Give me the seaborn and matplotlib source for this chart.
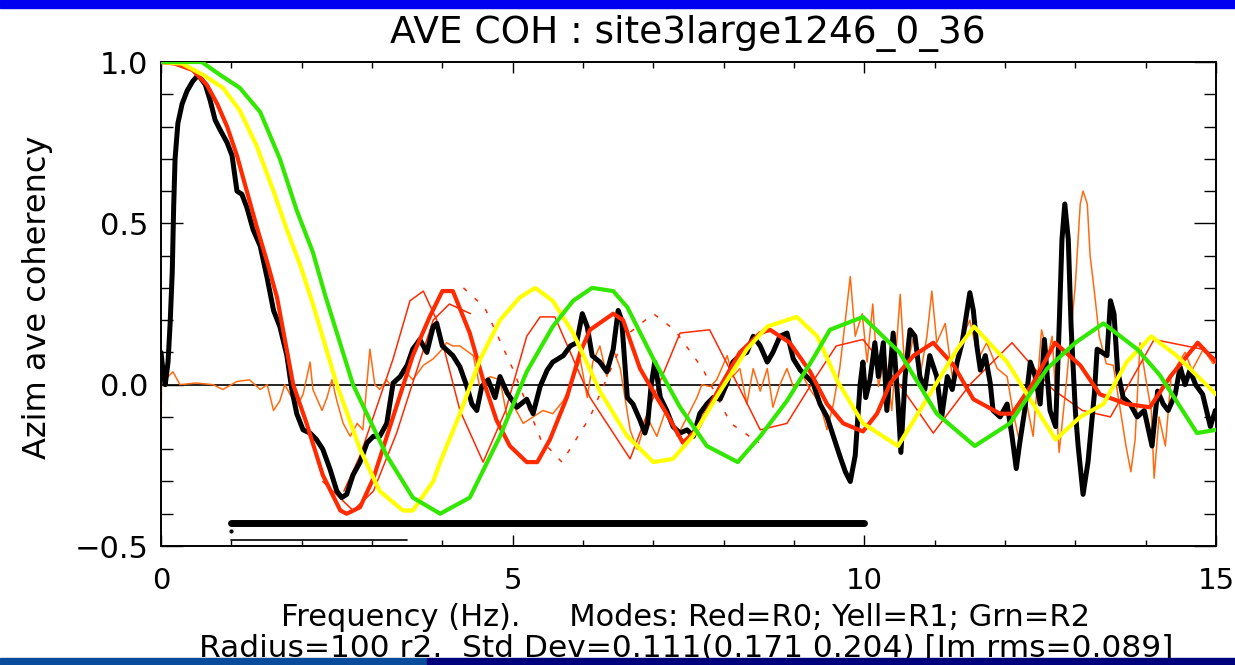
import numpy as np
import pandas as pd
import matplotlib
matplotlib.use("Agg")
import matplotlib.pyplot as plt
import seaborn as sns
from matplotlib.ticker import MultipleLocator
from matplotlib.patches import Rectangle

# --- data ---
# model R2 (green)
green_x = [0, 0.58, 0.84, 1.12, 1.41, 1.69, 1.93, 2.16, 2.33, 2.73, 3.21, 3.58, 3.97, 4.39, 4.82,
           5.2, 5.57, 5.86, 6.13, 6.43, 6.63, 7.0, 7.38, 7.76, 8.2, 8.52, 8.9, 9.27, 9.51, 9.98,
           10.5, 11.03, 11.57, 12.07, 12.6, 13.0, 13.4, 13.88, 14.2, 14.73, 15.0]
green_y = [1.0, 1.0, 0.96, 0.92, 0.845, 0.70, 0.54, 0.41, 0.28, 0.0, -0.22, -0.35, -0.40, -0.35, -0.16,
           0.04, 0.18, 0.26, 0.30, 0.29, 0.24, 0.08, -0.07, -0.19, -0.24, -0.16, -0.05, 0.08, 0.17, 0.21,
           0.10, -0.09, -0.19, -0.12, 0.05, 0.13, 0.19, 0.11, 0.03, -0.15, -0.14]

# model R1 (yellow)
yellow_x = [0, 0.3, 0.6, 0.88, 1.12, 1.36, 1.6, 1.79, 1.98, 2.16, 2.5, 2.83, 3.11, 3.44, 3.58, 3.87,
            3.97, 4.25, 4.54, 4.82, 5.1, 5.32, 5.57, 5.86, 6.24, 6.63, 7.0, 7.28, 7.56, 7.95, 8.33,
            8.62, 9.04, 9.33, 9.62, 9.98, 10.48, 10.93, 11.32, 11.56, 12.03, 12.4, 12.72, 13.07,
            13.4, 13.73, 14.08, 14.44, 15.0]
yellow_y = [1.0, 0.995, 0.96, 0.92, 0.85, 0.74, 0.60, 0.48, 0.37, 0.25, 0.0, -0.2, -0.33, -0.39, -0.39, -0.30,
            -0.24, -0.09, 0.08, 0.20, 0.27, 0.30, 0.26, 0.16, -0.02, -0.16, -0.24, -0.23, -0.16, -0.02, 0.11,
            0.18, 0.21, 0.15, 0.01, -0.12, -0.19, -0.03, 0.11, 0.18, 0.07, -0.06, -0.17, -0.10,
            -0.06, 0.07, 0.15, 0.09, -0.03]

# model R0 (red, thick)
red_x = [0, 0.2, 0.45, 0.65, 0.8, 0.94, 1.08, 1.22, 1.36, 1.51, 1.65, 1.88, 2.07, 2.3, 2.55, 2.64,
         2.83, 3.02, 3.3, 3.58, 3.82, 4.0, 4.15, 4.39, 4.58, 4.77, 4.96, 5.2, 5.35, 5.53, 5.77, 5.96,
         6.1, 6.43, 6.57, 6.81, 7.05, 7.19, 7.42, 7.62, 7.95, 8.23, 8.52, 8.66, 8.94, 9.23, 9.47,
         9.7, 9.98, 10.18, 10.37, 10.7, 10.98, 11.27, 11.55, 11.93, 12.1, 12.4, 12.71, 13.07,
         13.35, 13.73, 14.06, 14.35, 14.74, 15.0]
red_y = [1.0, 0.995, 0.975, 0.93, 0.87, 0.80, 0.71, 0.60, 0.49, 0.38, 0.27, 0.0, -0.12, -0.28, -0.39, -0.40,
         -0.38, -0.29, -0.10, 0.09, 0.21, 0.29, 0.29, 0.16, 0.015, -0.11, -0.19, -0.24, -0.24, -0.17, -0.04, 0.10,
         0.17, 0.22, 0.20, 0.05, -0.04, -0.09, -0.18, -0.14, -0.006, 0.10, 0.16, 0.17, 0.13, 0.04, -0.06,
         -0.12, -0.145, -0.09, 0.005, 0.09, 0.13, 0.06, -0.045, -0.09, -0.09, 0.005, 0.13, 0.06,
         -0.03, -0.06, -0.07, 0.025, 0.13, 0.07]

# thin red variants
thin_a_x = [2.6, 2.83, 3.05, 3.3, 3.54, 3.73, 3.92, 4.25, 4.58, 4.9, 5.2, 5.39, 5.6, 6.1, 6.67, 7.0,
            7.38, 7.8, 8.2, 8.52, 8.9, 9.3, 9.6, 9.98, 10.5, 10.98, 11.5, 12.1, 12.68, 13.1, 13.5,
            14.12, 14.8, 15.0]
thin_a_y = [-0.33, -0.22, -0.08, 0.08, 0.26, 0.29, 0.2, -0.08, -0.24, -0.08, 0.15, 0.21, 0.21, -0.04, -0.23, -0.04,
            0.16, 0.17, 0.0, -0.14, -0.12, 0.02, 0.12, 0.14, 0.0, -0.15, 0.0, 0.13, -0.015, -0.08, -0.1,
            0.14, 0.11, 0.08]
thin_b_x = [2.3, 2.73, 3.02, 3.35, 3.6, 3.87, 4.1, 4.4]
thin_b_y = [-0.30, -0.39, -0.33, -0.15, 0.02, 0.20, 0.25, 0.22]
thin_c_x = [4.3, 4.6, 5.0, 5.4, 5.7, 6.1, 6.6, 7.0, 7.3, 7.7, 8.1, 8.5]
thin_c_y = [0.30, 0.24, 0.05, -0.17, -0.24, -0.10, 0.15, 0.22, 0.17, 0.05, -0.12, -0.18]

# imaginary part (orange, thin)
orange_x = [0, 0, 0.01, 0.08, 0.17, 0.27, 0.5, 0.74, 0.88, 1.08, 1.26, 1.41, 1.51, 1.6, 1.69, 1.76,
            1.86, 1.95, 2.02, 2.12, 2.16, 2.29, 2.36, 2.43, 2.5, 2.59, 2.69, 2.79, 2.87, 2.97, 3.04,
            3.11, 3.21, 3.3, 3.44, 3.58, 3.73, 3.87, 4.0, 4.06, 4.15, 4.25, 4.44, 4.54, 4.68, 4.82,
            4.92, 5.0, 5.15, 5.29, 5.43, 5.57, 5.72, 5.86, 5.96, 6.06, 6.14, 6.24, 6.34, 6.43, 6.53,
            6.67, 6.77, 6.91, 7.05, 7.19, 7.34, 7.48, 7.62, 7.69, 7.81, 7.9, 8.05, 8.13, 8.23, 8.33,
            8.42, 8.52, 8.62, 8.7, 8.8, 8.9, 8.99, 9.13, 9.23, 9.37, 9.47, 9.56, 9.65, 9.73, 9.8,
            9.87, 9.97, 10.04, 10.12, 10.2, 10.3, 10.39, 10.51, 10.58, 10.7, 10.79, 10.89, 10.96,
            11.03, 11.15, 11.25, 11.36, 11.5, 11.62, 11.74, 11.89, 12.03, 12.11, 12.21, 12.31, 12.4,
            12.52, 12.61, 12.67, 12.77, 12.87, 13.0, 13.07, 13.11, 13.17, 13.21, 13.27, 13.34, 13.44,
            13.54, 13.64, 13.72, 13.79, 13.85, 13.92, 14.0, 14.08, 14.12, 14.19, 14.28, 14.36, 14.46,
            14.56, 14.66, 14.82, 14.96, 15.0]
orange_y = [0.29, -0.18, 0.07, 0.02, 0.04, 0.0, 0.005, 0.0, -0.015, 0.01, 0.015, -0.015, 0.0, -0.08, -0.05, 0.0,
            -0.04, -0.06, -0.03, 0.07, -0.015, -0.08, -0.04, 0.015, -0.05, -0.12, -0.16, -0.12, -0.14, 0.11, 0.0,
            -0.015, 0.015, -0.015, 0.05, 0.015, 0.06, 0.08, 0.11, 0.13, 0.12, 0.12, 0.09, -0.015, 0.025, 0.015,
            -0.1, -0.06, -0.12, -0.1, -0.08, -0.09, -0.05, 0.015, 0.08, -0.04, 0.07, 0.12, 0.025, 0.11, 0.05,
            -0.14, -0.2, -0.1, -0.16, -0.07, -0.16, -0.1, -0.04, 0.0, -0.006, 0.015, 0.09, 0.025, 0.05, -0.06,
            0.05, -0.02, 0.05, -0.07, 0.0, 0.05, -0.006, 0.025, -0.015, -0.06, -0.14, -0.06, 0.05, 0.2, 0.335,
            0.15, 0.22, 0.07, 0.25, -0.006, 0.09, -0.08, 0.28, 0.025, 0.15, 0.025, 0.15, 0.29,
            0.13, 0.19, 0.025, 0.13, 0.2, 0.08, 0.13, 0.05, 0.025, -0.08, -0.18, -0.06, -0.16,
            0.17, 0.09, 0.15, -0.21, 0.0, 0.31, 0.56, 0.60, 0.56, 0.4, 0.29, 0.15, 0.065,
            0.06, -0.08, -0.19, -0.27, -0.17, 0.13, 0.02, -0.08, -0.29, -0.1, -0.19, 0.02, 0.065,
            0.1, 0.045, 0.11, 0.065, 0.09]

# measured average coherency (black, thick)
black_x = [0, 0.03, 0.06, 0.1, 0.13, 0.16, 0.18, 0.2, 0.24, 0.3, 0.37, 0.45, 0.53, 0.63, 0.7, 0.77,
           0.84, 0.94, 1.01, 1.08, 1.15, 1.22, 1.31, 1.41, 1.51, 1.6, 1.69, 1.79, 1.86, 1.93, 2.02,
           2.12, 2.21, 2.3, 2.4, 2.5, 2.57, 2.64, 2.73, 2.83, 2.93, 3.02, 3.11, 3.21, 3.3, 3.4, 3.5,
           3.58, 3.68, 3.78, 3.87, 3.92, 4.0, 4.15, 4.25, 4.35, 4.42, 4.49, 4.56, 4.65, 4.75, 4.82,
           4.92, 5.06, 5.2, 5.29, 5.39, 5.49, 5.57, 5.72, 5.82, 5.91, 5.99, 6.06, 6.13, 6.24, 6.34,
           6.43, 6.5, 6.55, 6.63, 6.71, 6.81, 6.88, 6.92, 6.97, 7.02, 7.1, 7.19, 7.28, 7.38, 7.48,
           7.57, 7.66, 7.76, 7.85, 7.95, 8.05, 8.13, 8.23, 8.33, 8.42, 8.52, 8.62, 8.7, 8.8, 8.9,
           8.99, 9.09, 9.18, 9.27, 9.37, 9.47, 9.56, 9.65, 9.73, 9.8, 9.87, 9.94, 9.98, 10.02, 10.08,
           10.15, 10.2, 10.27, 10.32, 10.41, 10.48, 10.52, 10.58, 10.65, 10.72, 10.79, 10.86, 10.93,
           11.03, 11.1, 11.18, 11.25, 11.32, 11.39, 11.46, 11.5, 11.55, 11.6, 11.65, 11.72, 11.79,
           11.83, 11.93, 12.03, 12.1, 12.16, 12.21, 12.28, 12.36, 12.43, 12.5, 12.56, 12.64, 12.72,
           12.77, 12.81, 12.85, 12.9, 12.94, 13.0, 13.04, 13.11, 13.18, 13.27, 13.31, 13.38, 13.45,
           13.5, 13.55, 13.6, 13.68, 13.78, 13.88, 13.98, 14.05, 14.09, 14.17, 14.25, 14.32, 14.42,
           14.49, 14.56, 14.63, 14.71, 14.81, 14.92, 14.99]
black_y = [0.1, 0.04, 0.0, 0.07, 0.19, 0.35, 0.55, 0.70, 0.81, 0.87, 0.91, 0.94, 0.96, 0.93, 0.88, 0.82,
           0.79, 0.75, 0.71, 0.60, 0.59, 0.55, 0.48, 0.43, 0.33, 0.23, 0.18, 0.09, -0.015, -0.09, -0.14,
           -0.15, -0.17, -0.2, -0.26, -0.33, -0.35, -0.34, -0.28, -0.24, -0.18, -0.16, -0.16, -0.12, 0.005, 0.025, 0.06,
           0.11, 0.14, 0.10, 0.18, 0.19, 0.12, 0.09, 0.055, -0.006, -0.06, -0.08, -0.006, 0.015, -0.04, 0.025,
           -0.025, -0.07, -0.045, -0.09, -0.006, 0.045, 0.07, 0.09, 0.12, 0.13, 0.22, 0.18, 0.09, 0.07, 0.04,
           0.11, 0.23, 0.2, -0.04, -0.06, -0.11, -0.15, -0.12, 0.0, 0.07, -0.04, -0.08, -0.13, -0.15, -0.14,
           -0.16, -0.09, -0.06, -0.04, -0.045, 0.005, 0.07, 0.09, 0.1, 0.15, 0.12, 0.07, 0.1, 0.15, 0.16,
           0.08, 0.045, 0.025, 0.005, -0.06, -0.1, -0.16, -0.22, -0.27, -0.30, -0.22, 0.0, 0.07, -0.04, 0.015,
           0.13, 0.025, 0.13, -0.08, 0.16, -0.06, -0.21, 0.025, 0.17, 0.15, 0.025, -0.015, 0.09,
           0.025, -0.1, 0.025, -0.015, 0.07, 0.13, 0.23, 0.285, 0.23, 0.12, 0.045, 0.09, 0.005,
           -0.08, -0.1, -0.06, -0.16, -0.26, -0.18, -0.08, 0.07, 0.025, -0.06, 0.14, -0.08, -0.13,
           0.18, 0.45, 0.56, 0.45, 0.18, -0.08, -0.19, -0.34, -0.24, -0.03, 0.11, 0.1, 0.09,
           0.26, 0.22, 0.045, -0.04, -0.06, -0.1, -0.08, -0.15, -0.19, -0.02, -0.06, -0.08, -0.03,
           0.055, 0.0, 0.045, 0.0, -0.03, -0.13, -0.08]

# frequency band bars at the bottom
band_thick_x = [1.0, 10.0]
band_thick_y = [-0.43, -0.43]
band_thin_x = [1.0, 3.5]
band_thin_y = [-0.48, -0.48]

title = "AVE COH : site3large1246_0_36"
xlabel_1 = "Frequency (Hz).     Modes: Red=R0; Yell=R1; Grn=R2"
xlabel_2 = "Radius=100 r2.  Std Dev=0.111(0.171 0.204) [Im rms=0.089]"
ylabel = "Azim ave coherency"

sns.set_style("ticks")
plt.rcParams["font.family"] = ["DejaVu Sans"]
plt.rcParams["text.color"] = "black"
plt.rcParams["xtick.color"] = "black"
plt.rcParams["ytick.color"] = "black"

fig = plt.figure(figsize=(12.35, 6.65), dpi=100)
fig.patch.set_facecolor("white")
ax = fig.add_axes([161 / 1235, 1 - 546 / 665, (1216 - 161) / 1235, (546 - 62) / 665])


def draw(x, y, color, lw, ls="-", z=2):
    df = pd.DataFrame({"f": x, "c": y})
    sns.lineplot(data=df, x="f", y="c", ax=ax, color=color, linewidth=lw,
                 linestyle=ls, sort=False, estimator=None, zorder=z)


ax.axhline(0, color="black", lw=1.2, zorder=1)
draw(orange_x, orange_y, "#ff6a10", 1.1, z=2)
draw(thin_a_x, thin_a_y, "#ff2a00", 1.1, z=2)
draw(thin_b_x, thin_b_y, "#ff2a00", 1.1, z=2)
draw(thin_c_x, thin_c_y, "#ff2a00", 1.1, ls=(0, (3, 7)), z=2)
draw(black_x, black_y, "black", 3.6, z=3)
draw(red_x, red_y, "#ff2a00", 3.0, z=4)
draw(yellow_x, yellow_y, "#ffff00", 3.0, z=5)
draw(green_x, green_y, "#33e800", 3.0, z=6)
draw(band_thick_x, band_thick_y, "black", 5.0, z=6)
draw(band_thin_x, band_thin_y, "black", 1.2, z=6)
ax.plot([1.0], [-0.455], marker="o", ms=2, color="black")

ax.set_xlim(0, 15)
ax.set_ylim(-0.5, 1.0)
ax.set_xticks([0, 5, 10, 15])
ax.set_xticklabels(["0", "5", "10", "15"])
ax.set_yticks([-0.5, 0.0, 0.5, 1.0])
ax.set_yticklabels(["\u22120.5", "0.0", "0.5", "1.0"])
ax.xaxis.set_minor_locator(MultipleLocator(1))
ax.yaxis.set_minor_locator(MultipleLocator(0.1))
ax.tick_params(axis="both", which="both", direction="in", top=True, right=True,
               width=1.0, colors="black", labelsize=22)
ax.tick_params(axis="x", which="major", length=8, pad=15, labelsize=21)
ax.tick_params(axis="x", which="minor", length=4.5)
ax.tick_params(axis="y", which="major", length=16, pad=9)
ax.tick_params(axis="y", which="minor", length=8.5)
for s in ax.spines.values():
    s.set_linewidth(1.4)
    s.set_color("black")
ax.set_xlabel("")
ax.set_ylabel("")

fig.text(0.557, 1 - 33 / 665, title, ha="center", va="center", fontsize=27, color="black")
fig.text(0.030, 0.553, ylabel, ha="center", va="center", rotation=90, fontsize=23, color="black")
fig.text(0.555, 1 - 618 / 665, xlabel_1, ha="center", va="center", fontsize=22, color="black")
fig.text(0.556, 1 - 648 / 665, xlabel_2, ha="center", va="center", fontsize=22.5, color="black")

# slide frame bars
fig.patches.append(Rectangle((0, 1 - 8 / 665), 1, 8 / 665, transform=fig.transFigure,
                             color="#0000f0", zorder=20))
fig.patches.append(Rectangle((0, 0), 427 / 1235, 7 / 665, transform=fig.transFigure,
                             color="#0a4c9c", zorder=20))
fig.patches.append(Rectangle((427 / 1235, 0), 1 - 427 / 1235, 7 / 665, transform=fig.transFigure,
                             color="#00007c", zorder=20))

fig.savefig("out.png", dpi=100, facecolor="white")
